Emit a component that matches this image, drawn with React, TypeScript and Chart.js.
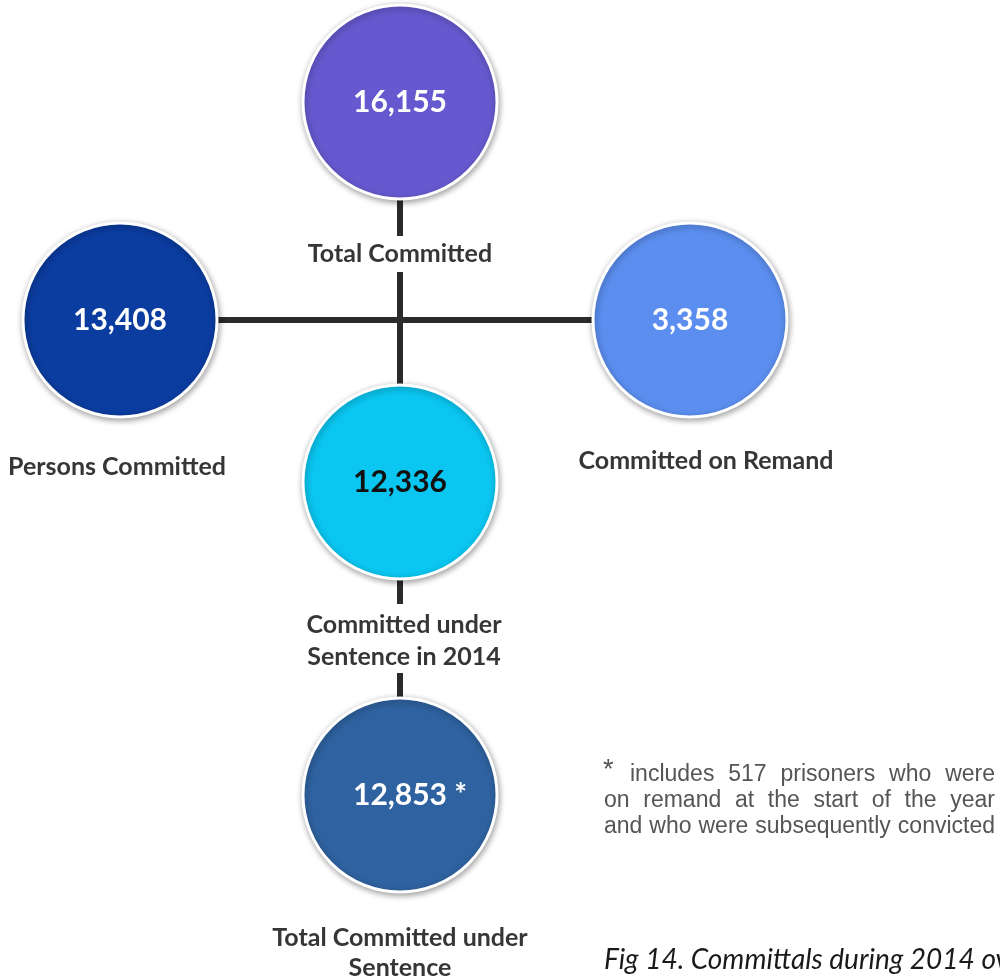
import React, { useEffect, useRef } from 'react';
import { Chart, registerables } from 'chart.js';

Chart.register(...registerables);

// ---- data ----
const nodeNames = [
  'Total Committed',
  'Persons Committed',
  'Committed on Remand',
  'Committed under Sentence in 2014',
  'Total Committed under Sentence',
];
const nodeValues = [16155, 13408, 3358, 12336, 12853];
const nodeMarks = ['', '', '', '', ' *'];
// node placement in diagram units (x: 0..1000, y: 0..976 top-down)
const nodeX = [400, 120, 690, 400, 400];
const nodeY = [102, 320, 320, 482, 795];
// connections between nodes (by index)
const edgeFrom = [1, 0, 3];
const edgeTo = [2, 3, 4];

const footnoteLines = [
  'includes 517 prisoners who were',
  'on remand at the start of the year',
  'and who were subsequently convicted',
];
const figureCaption = 'Fig 14. Committals during 2014 ov';

// ---- styles ----
const nodeColors = ['#6659CF', '#0B3C9F', '#5B8EEF', '#0AC6F0', '#2F62A0'];
const nodeTextColors = ['#ffffff', '#ffffff', '#ffffff', '#111111', '#ffffff'];
const NODE_R = 97;
const LINE_COLOR = '#2b2b2b';
const CAPTION_COLOR = '#363636';

// caption layout per node: lines, anchor, line height, optional gap in the connector
const captionLayout = [
  { lines: ['Total Committed'], x: 400, y: 254, lh: 0, gap: [236, 272] },
  { lines: ['Persons Committed'], x: 117, y: 467, lh: 0, gap: null },
  { lines: ['Committed under', 'Sentence in 2014'], x: 404, y: 625, lh: 32, gap: [604, 673] },
  { lines: ['Committed on Remand'], x: 706, y: 461, lh: 0, gap: null },
  { lines: ['Total Committed under', 'Sentence'], x: 400, y: 938, lh: 30, gap: null },
];

function justify(ctx: CanvasRenderingContext2D, text: string, x0: number, x1: number, y: number) {
  const words = text.split(/\s+/);
  const total = words.reduce((s, w) => s + ctx.measureText(w).width, 0);
  const space = (x1 - x0 - total) / (words.length - 1);
  let x = x0;
  ctx.textAlign = 'left';
  words.forEach((w) => {
    ctx.fillText(w, x, y);
    x += ctx.measureText(w).width + space;
  });
}

const diagramPlugin = {
  id: 'diagram',
  beforeDraw(chart: any) {
    const ctx = chart.ctx;
    ctx.save();
    ctx.fillStyle = '#ffffff';
    ctx.fillRect(0, 0, chart.width, chart.height);
    ctx.restore();
  },
  beforeDatasetDraw(chart: any, args: any) {
    if (args.index === 0) {
      const ctx = chart.ctx;
      ctx.save();
      ctx.shadowColor = 'rgba(0,0,0,0.35)';
      ctx.shadowBlur = 6;
      ctx.shadowOffsetX = 1;
      ctx.shadowOffsetY = 2;
    }
  },
  afterDatasetDraw(chart: any, args: any) {
    if (args.index === 0) chart.ctx.restore();
  },
  afterDatasetsDraw(chart: any) {
    const ctx: CanvasRenderingContext2D = chart.ctx;
    const xs = chart.scales.x;
    const ys = chart.scales.y;
    ctx.save();
    ctx.textBaseline = 'middle';

    // values inside circles
    ctx.font = 'bold 30px Lato';
    nodeValues.forEach((v, i) => {
      ctx.fillStyle = nodeTextColors[i];
      const px = xs.getPixelForValue(nodeX[i]);
      const py = ys.getPixelForValue(nodeY[i]);
      const s = v.toLocaleString('en-US');
      ctx.textAlign = 'center';
      ctx.fillText(s, px, py);
      if (nodeMarks[i]) {
        ctx.textAlign = 'left';
        ctx.fillText(nodeMarks[i], px + ctx.measureText(s).width / 2, py);
      }
    });

    // captions
    ctx.font = 'bold 25px Lato';
    captionLayout.forEach((c) => {
      if (c.gap) {
        ctx.fillStyle = '#ffffff';
        ctx.fillRect(c.x - 12, c.gap[0], 24, c.gap[1] - c.gap[0]);
      }
      ctx.fillStyle = CAPTION_COLOR;
      ctx.textAlign = 'center';
      c.lines.forEach((ln, k) => ctx.fillText(ln, c.x, c.y + k * c.lh));
    });

    // footnote
    ctx.fillStyle = '#555555';
    ctx.textAlign = 'left';
    ctx.font = '27px "Liberation Sans", Arial, sans-serif';
    ctx.fillText('*', 603, 771);
    ctx.font = '23px "Liberation Sans", Arial, sans-serif';
    justify(ctx, footnoteLines[0], 630, 995, 775);
    justify(ctx, footnoteLines[1], 604, 995, 801);
    justify(ctx, footnoteLines[2], 604, 995, 827);

    // figure caption
    ctx.fillStyle = '#1a1a1a';
    ctx.font = 'italic 28px Lato';
    ctx.textAlign = 'left';
    ctx.fillText(figureCaption, 604, 960);
    ctx.restore();
  },
};

export default function App() {
  const ref = useRef<HTMLCanvasElement>(null);
  useEffect(() => {
    if (!ref.current) return;
    const nodePoints = nodeX.map((x, i) => ({ x, y: nodeY[i] }));
    const edgeSets = edgeFrom.map((f, i) => ({
      type: 'line' as const,
      label: nodeNames[f] + ' - ' + nodeNames[edgeTo[i]],
      data: [nodePoints[f], nodePoints[edgeTo[i]]],
      showLine: true,
      borderColor: LINE_COLOR,
      borderWidth: 6,
      borderCapStyle: 'butt' as const,
      pointRadius: 0,
      fill: false,
      clip: false,
      order: 2,
    }));
    const chart = new Chart(ref.current, {
      type: 'scatter',
      data: {
        datasets: [
          {
            label: 'Committals',
            data: nodePoints,
            pointRadius: NODE_R,
            pointHoverRadius: NODE_R,
            pointBackgroundColor: nodeColors,
            pointBorderColor: '#ffffff',
            pointBorderWidth: 3,
            clip: false,
            order: 1,
          } as any,
          ...edgeSets,
        ],
      },
      options: {
        animation: false,
        responsive: false,
        events: [],
        layout: { padding: 0, autoPadding: false },
        plugins: { legend: { display: false }, tooltip: { enabled: false } },
        scales: {
          x: { type: 'linear', min: 0, max: 1000, display: false },
          y: { type: 'linear', min: 0, max: 976, reverse: true, display: false },
        },
      } as any,
      plugins: [diagramPlugin],
    });
    const fonts = (document as any).fonts;
    if (fonts && fonts.load) {
      Promise.all([
        fonts.load('bold 28px Lato'),
        fonts.load('italic 26px Lato'),
        fonts.load('22px "Liberation Sans"'),
      ]).then(() => chart.update()).catch(() => {});
    }
    return () => chart.destroy();
  }, []);
  return (
    <div style={{ position: 'absolute', left: 0, top: 0 }}>
      <canvas ref={ref} width={1000} height={976} style={{ display: 'block' }} />
    </div>
  );
}
